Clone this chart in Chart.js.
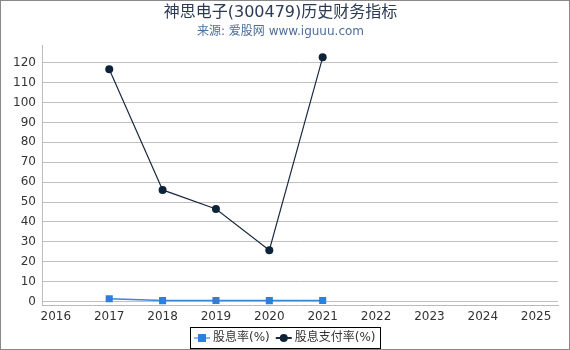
<!DOCTYPE html>
<html>
<head>
<meta charset="utf-8">
<script src="https://cdn.jsdelivr.net/npm/chart.js@4/dist/chart.umd.min.js"></script>
<style>
  html, body { margin: 0; padding: 0; background: #fff; }
  #wrap { width: 568px; height: 348px; border: 1px solid #888; position: relative; }
</style>
</head>
<body>
<div id="wrap"><canvas id="myChart" width="568" height="348"></canvas></div>
<script>
const years = [2017, 2018, 2019, 2020, 2021];
const yieldRate = [1.4, 0.5, 0.6, 0.5, 0.6];
const payoutRate = [116.7, 56.1, 46.5, 25.8, 122.7];
const xTicks = [2016, 2017, 2018, 2019, 2020, 2021, 2022, 2023, 2024, 2025];
const yTicks = [0, 10, 20, 30, 40, 50, 60, 70, 80, 90, 100, 110, 120];

const font = "'DejaVu Sans', 'Noto Sans CJK SC', sans-serif";

// legend drawn by hand so it gets the boxed look with line+marker symbols
const boxLegend = {
    id: 'boxLegend',
    afterDraw(chart) {
        const ctx = chart.ctx;
        const sets = chart.data.datasets;
        ctx.save();
        ctx.font = '12px ' + font;
        const sym = 16, gap = 3, pad = 4, between = 6;
        const widths = sets.map(d => ctx.measureText(d.label).width);
        let total = pad * 2 + between * (sets.length - 1);
        widths.forEach(w => { total += sym + gap + w; });
        const left = Math.round(chart.width / 2 - total / 2);
        const top = 326, h = 21;
        ctx.strokeStyle = '#000';
        ctx.lineWidth = 1;
        ctx.strokeRect(left + 0.5, top + 0.5, Math.round(total), h);
        let x = left + pad;
        const cy = top + h / 2 + 0.5;
        sets.forEach((d, i) => {
            ctx.strokeStyle = d.legendLine || d.borderColor;
            ctx.lineWidth = 2;
            ctx.beginPath();
            ctx.moveTo(x, cy);
            ctx.lineTo(x + sym, cy);
            ctx.stroke();
            ctx.fillStyle = d.backgroundColor;
            if (d.pointStyle === 'rect') {
                ctx.fillRect(x + sym / 2 - 4, cy - 4, 8, 8);
            } else {
                ctx.beginPath();
                ctx.arc(x + sym / 2, cy, 4, 0, Math.PI * 2);
                ctx.fill();
            }
            x += sym + gap;
            ctx.fillStyle = '#333';
            ctx.textBaseline = 'middle';
            ctx.fillText(d.label, x, cy);
            x += widths[i] + between;
        });
        ctx.restore();
    }
};

const config = {
    type: 'line',
    data: {
        datasets: [{
            label: '股息率(%)',
            data: years.map((y, i) => ({ x: y, y: yieldRate[i] })),
            borderColor: '#3a85d8',
            legendLine: '#8ab8ec',
            backgroundColor: '#2f7ed8',
            borderWidth: 1.5,
            pointStyle: 'rect',
            pointRadius: 5,
            pointBorderWidth: 0
        }, {
            label: '股息支付率(%)',
            data: years.map((y, i) => ({ x: y, y: payoutRate[i] })),
            borderColor: '#1c2a40',
            backgroundColor: '#0d233a',
            borderWidth: 1.2,
            pointStyle: 'circle',
            pointRadius: 4,
            pointBorderWidth: 0
        }]
    },
    options: {
        responsive: false,
        animation: false,
        layout: { padding: { left: 2, right: 11, top: 0, bottom: 21 } },
        plugins: {
            title: {
                display: true,
                text: '神思电子(300479)历史财务指标',
                color: '#2b3a55',
                font: { family: font, size: 16, weight: 'normal' },
                padding: { top: 2, bottom: 2 }
            },
            subtitle: {
                display: true,
                text: '来源: 爱股网 www.iguuu.com',
                color: '#4d6e9a',
                font: { family: font, size: 12 },
                padding: { bottom: 7 }
            },
            legend: { display: false },
            tooltip: { enabled: false }
        },
        scales: {
            x: {
                type: 'linear',
                min: 2015.74,
                max: 2025.41,
                afterBuildTicks: (axis) => { axis.ticks = xTicks.map(v => ({ value: v })); },
                ticks: {
                    color: '#333',
                    font: { family: font, size: 12 },
                    callback: (v) => String(v),
                    maxRotation: 0,
                    padding: 4
                },
                grid: { display: false, drawTicks: false },
                border: { color: '#bbb' }
            },
            y: {
                min: -2,
                max: 128.6,
                afterBuildTicks: (axis) => { axis.ticks = yTicks.map(v => ({ value: v })); },
                afterFit: (axis) => { axis.width = 39; },
                ticks: {
                    color: '#333',
                    font: { family: font, size: 12 },
                    padding: 6
                },
                grid: { color: '#c0c0c0', drawTicks: false },
                border: { color: '#bbb' }
            }
        }
    },
    plugins: [boxLegend]
};

const myChart = new Chart(document.getElementById('myChart'), config);
</script>
</body>
</html>
